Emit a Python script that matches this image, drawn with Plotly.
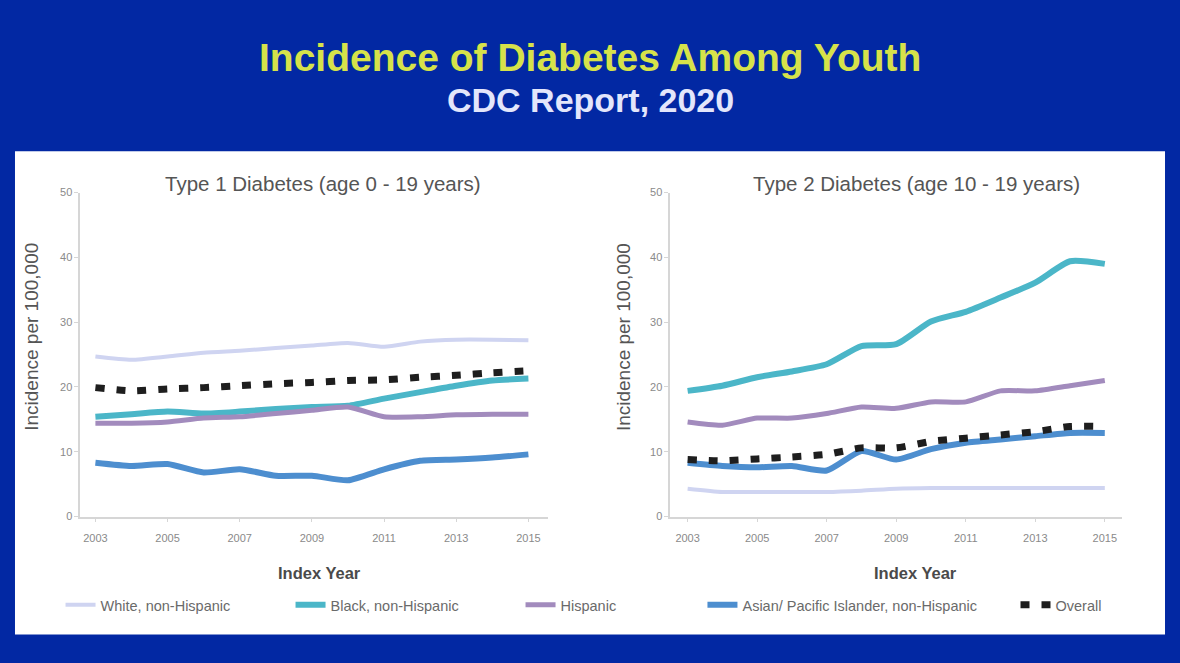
import plotly.graph_objects as go

# Index years shared by both panels
YEARS = list(range(2003, 2016))

GROUPS = [
    "White, non-Hispanic",
    "Black, non-Hispanic",
    "Hispanic",
    "Asian/ Pacific Islander, non-Hispanic",
    "Overall",
]

# Type 1 diabetes, ages 0-19 (incidence per 100,000)
T1_WHITE = [24.7, 24.2, 24.7, 25.3, 25.6, 26.0, 26.4, 26.8, 26.2, 27.0, 27.3, 27.3, 27.2]
T1_BLACK = [15.4, 15.8, 16.2, 15.9, 16.2, 16.6, 16.9, 17.1, 18.2, 19.2, 20.2, 21.0, 21.3]
T1_HISP = [14.4, 14.4, 14.6, 15.2, 15.4, 15.9, 16.4, 16.9, 15.4, 15.4, 15.7, 15.8, 15.8]
T1_API = [8.3, 7.8, 8.1, 6.8, 7.3, 6.3, 6.3, 5.6, 7.3, 8.6, 8.8, 9.1, 9.6]
T1_ALL = [19.9, 19.4, 19.7, 19.9, 20.2, 20.5, 20.7, 21.0, 21.1, 21.5, 21.8, 22.2, 22.5]

# Type 2 diabetes, ages 10-19 (incidence per 100,000)
T2_WHITE = [4.3, 3.8, 3.8, 3.8, 3.8, 4.0, 4.3, 4.4, 4.4, 4.4, 4.4, 4.4, 4.4]
T2_BLACK = [19.4, 20.2, 21.5, 22.4, 23.5, 26.3, 26.6, 30.1, 31.6, 33.8, 36.1, 39.4, 39.0]
T2_HISP = [14.6, 14.1, 15.2, 15.2, 15.9, 16.9, 16.7, 17.7, 17.7, 19.4, 19.4, 20.2, 21.0]
T2_API = [8.3, 7.8, 7.6, 7.8, 7.1, 10.1, 8.8, 10.4, 11.4, 11.9, 12.4, 12.9, 12.9]
T2_ALL = [8.8, 8.6, 8.9, 9.2, 9.6, 10.6, 10.6, 11.6, 12.1, 12.6, 13.1, 13.9, 13.9]

X_TICKS = [2003, 2005, 2007, 2009, 2011, 2013, 2015]
Y_TICKS = [0, 10, 20, 30, 40, 50]

BG_BLUE = "#0228a3"
TITLE_YELLOW = "#d6e24a"

STYLES = [
    dict(color="#cfd4f1", width=4),
    dict(color="#4bb6c8", width=6),
    dict(color="#a28bbd", width=5),
    dict(color="#4d8ecf", width=6),
    dict(color="#1e1e1e", width=7, dash="9px,12px"),
]
# legend blocks: the reference spaces its legend entries unevenly
LEGEND_OF = ["legend", "legend", "legend", "legend2", "legend3"]

fig = go.Figure()

panels = [
    ("x", "y", [T1_WHITE, T1_BLACK, T1_HISP, T1_API, T1_ALL], True),
    ("x2", "y2", [T2_WHITE, T2_BLACK, T2_HISP, T2_API, T2_ALL], False),
]
for xa, ya, series, show in panels:
    for name, vals, st, lg in zip(GROUPS, series, STYLES, LEGEND_OF):
        fig.add_trace(go.Scatter(
            x=YEARS, y=vals, mode="lines", name=name,
            line=dict(shape="spline", smoothing=0.6, **st),
            xaxis=xa, yaxis=ya, showlegend=show, legend=lg,
        ))

axis_common = dict(
    showgrid=False, zeroline=False, showline=True,
    linecolor="#d6d6d6", linewidth=1.5,
    ticks="outside", tickcolor="#d6d6d6", ticklen=4,
    tickfont=dict(size=11, color="#8a8a8a", family="Arial"),
)
xaxis_common = dict(ticklabelstandoff=6, **axis_common)
legend_common = dict(
    orientation="h", y=0.08, xanchor="left", yanchor="middle",
    bgcolor="rgba(0,0,0,0)",
    font=dict(size=14.5, color="#6a6a6a", family="Arial"),
)

fig.update_layout(
    width=1180, height=663,
    paper_bgcolor=BG_BLUE, plot_bgcolor="white",
    margin=dict(l=0, r=0, t=0, b=0),
    font=dict(family="Arial"),
    xaxis=dict(domain=[0.068, 0.464], range=[2002.58, 2015.53],
               tickvals=X_TICKS, anchor="y", **xaxis_common),
    yaxis=dict(domain=[0.2157, 0.7134], range=[0, 50],
               tickvals=Y_TICKS, anchor="x", **axis_common),
    xaxis2=dict(domain=[0.568, 0.951], range=[2002.5, 2015.5],
                tickvals=X_TICKS, anchor="y2", **xaxis_common),
    yaxis2=dict(domain=[0.2157, 0.7134], range=[0, 50],
                tickvals=Y_TICKS, anchor="x2", **axis_common),
    legend=dict(x=0.0513, entrywidth=185, **legend_common),
    legend2=dict(x=0.5953, **legend_common),
    legend3=dict(x=0.8606, **legend_common),
    shapes=[dict(type="rect", xref="paper", yref="paper",
                 x0=0.0127, x1=0.9873, y0=0.0347, y1=0.7768,
                 fillcolor="white", line=dict(width=0), layer="below")],
)

ann = [
    dict(text="<b>Incidence of Diabetes Among Youth</b>", x=0.5, y=0.921,
         font=dict(size=39, color=TITLE_YELLOW)),
    dict(text="<b>CDC Report, 2020</b>", x=0.5, y=0.855,
         font=dict(size=34, color="#e3e6fb")),
    dict(text="Type 1 Diabetes (age 0 - 19 years)", x=0.274, y=0.728,
         font=dict(size=20.5, color="#555555")),
    dict(text="Type 2 Diabetes (age 10 - 19 years)", x=0.777, y=0.728,
         font=dict(size=20.5, color="#555555")),
    dict(text="<b>Index Year</b>", x=0.271, y=0.129,
         font=dict(size=16.5, color="#4a4a4a")),
    dict(text="<b>Index Year</b>", x=0.776, y=0.129,
         font=dict(size=16.5, color="#4a4a4a")),
    dict(text="Incidence per 100,000", x=0.027, y=0.4917, textangle=-90,
         font=dict(size=19, color="#555555")),
    dict(text="Incidence per 100,000", x=0.529, y=0.4917, textangle=-90,
         font=dict(size=19, color="#555555")),
]
for a in ann:
    fig.add_annotation(xref="paper", yref="paper", showarrow=False,
                       xanchor="center", yanchor="middle", **a)

# drop the default 8px page margin so the figure fills the window
fig.write_html("out.html", config={"displayModeBar": False},
               post_script="document.body.style.margin='0';")
